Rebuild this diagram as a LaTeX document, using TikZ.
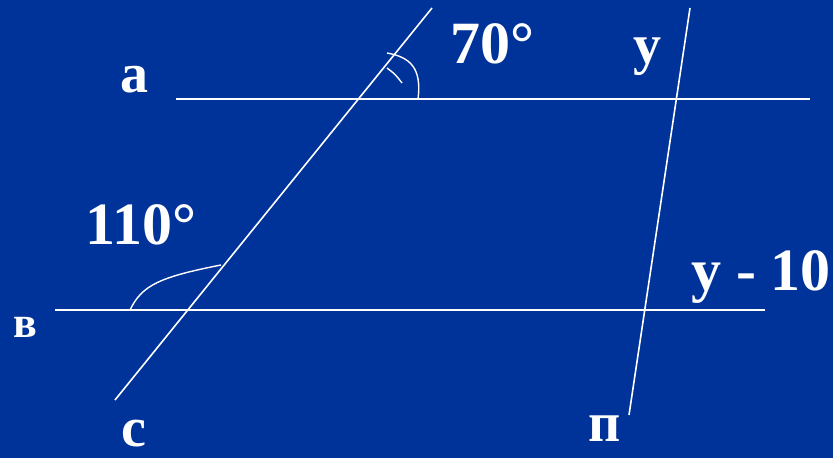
\documentclass[tikz,border=0pt]{standalone}
\usepackage{fontspec}
\setmainfont{Liberation Serif}
\usetikzlibrary{calc}
\definecolor{boardblue}{RGB}{0,51,153}

\begin{document}
\begin{tikzpicture}[x=1pt, y=-1pt,
    gline/.style={white, line width=1.6pt},
    arcmark/.style={white, line width=1.4pt},
    lbl/.style={white, anchor=base, inner sep=0pt, font=\bfseries\fontsize{56}{56}\selectfont},
    num/.style={lbl, font=\bfseries\fontsize{60}{60}\selectfont}]
  \fill[boardblue] (0,0) rectangle (833,458);
  \useasboundingbox (0,0) rectangle (833,458);
  % the two parallel lines a and b
  \coordinate (aL) at (176,99);  \coordinate (aR) at (810,99);
  \coordinate (bL) at (55,310);  \coordinate (bR) at (765,310);
  % the two secants c and p
  \coordinate (cT) at (432,8);   \coordinate (cB) at (115,400);
  \coordinate (pT) at (690,8);   \coordinate (pB) at (629,415);
  \draw[gline] (aL) -- (aR);
  \draw[gline] (bL) -- (bR);
  \draw[gline] (cT) -- (cB);
  \draw[gline] (pT) -- (pB);
  % angle marks
  \draw[arcmark] (418,99) .. controls (422,68) and (410,57) .. (387,53);
  \draw[arcmark] (387,68) .. controls (395,74) .. (402,83);
  \draw[arcmark] (130,310) .. controls (142,285) and (160,277) .. (221,265);
  % labels
  \node[lbl] (la) at (134,92) {а};
  \node[lbl, font=\bfseries\fontsize{44}{44}\selectfont] (lb) at (25,337) {в};
  \node[lbl] (lc) at (134,446) {с};
  \node[lbl] (lp) at (605,441) {п};
  \node[lbl] (ly) at (647,63) {у};
  \node[num] (n70) at (492,63) {70°};
  \node[num] (n110) at (141,244) {110°};
  \node[num] (ny) at (761,290) {у - 10};
\end{tikzpicture}
\end{document}
